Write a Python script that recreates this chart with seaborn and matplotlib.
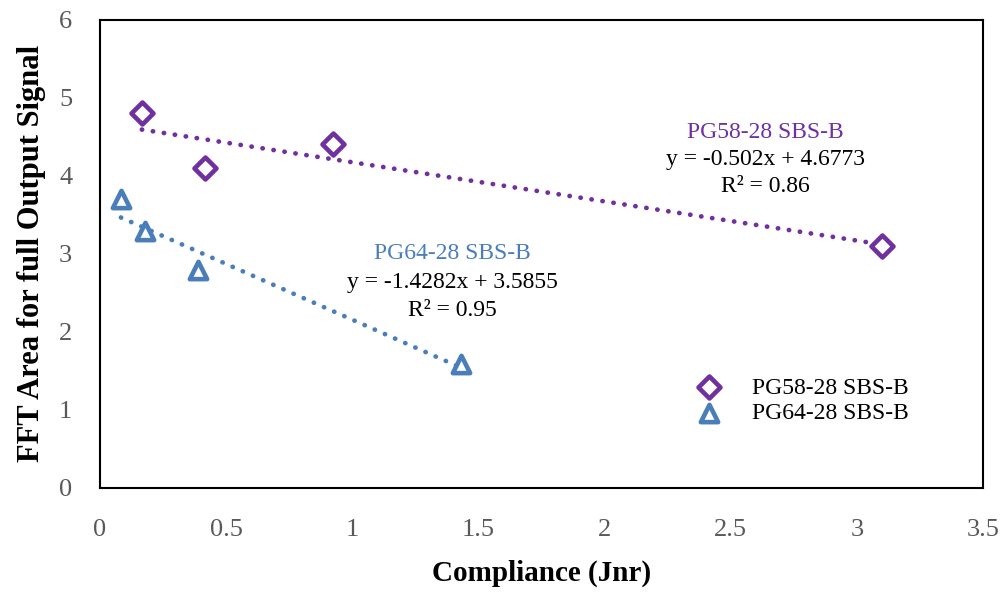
import numpy as np
import pandas as pd
import matplotlib
matplotlib.use("Agg")
import matplotlib.pyplot as plt
import seaborn as sns

# Measured compliance (Jnr) and FFT area for each binder
jnr_pg58 = [0.166, 0.416, 0.923, 3.10]
fft_pg58 = [4.81, 4.10, 4.41, 3.10]
jnr_pg64 = [0.083, 0.178, 0.388, 1.43]
fft_pg64 = [3.71, 3.29, 2.79, 1.59]

series_names = ["PG58-28 SBS-B", "PG64-28 SBS-B"]
fit_slopes = [-0.502, -1.4282]
fit_intercepts = [4.6773, 3.5855]
fit_r2 = ["0.86", "0.95"]

x_ticks = [0, 0.5, 1, 1.5, 2, 2.5, 3, 3.5]
y_ticks = [0, 1, 2, 3, 4, 5, 6]

purple = "#7030A0"
blue = "#4A7EBB"
serif = ["Liberation Serif", "DejaVu Serif"]

sns.set_theme(style="white")
plt.rcParams["font.family"] = serif

df = pd.DataFrame({
    "jnr": jnr_pg58 + jnr_pg64,
    "fft": fft_pg58 + fft_pg64,
    "binder": [series_names[0]] * len(jnr_pg58) + [series_names[1]] * len(jnr_pg64),
})

fig = plt.figure(figsize=(10.04, 5.94), dpi=100)
ax = fig.add_axes([0.0996, 0.1785, 0.8795, 0.788])

colors = [purple, blue]
markers = ["D", "^"]
sizes = [125, 155]

# Linear trend lines spanning each series' x range
for name, col, m, b in zip(series_names, colors, fit_slopes, fit_intercepts):
    sub = df[df["binder"] == name]
    xs = np.array([sub["jnr"].min(), sub["jnr"].max()])
    trend = pd.DataFrame({"jnr": xs, "fft": m * xs + b})
    sns.lineplot(data=trend, x="jnr", y="fft", ax=ax, color=col, legend=False,
                 zorder=2)
    line = ax.lines[-1]
    line.set_linewidth(3.4)
    line.set_linestyle((0, (0.05, 2.3)))
    line.set_dash_capstyle("round")

# Hollow markers for the measurements
for name, col, mk, sz in zip(series_names, colors, markers, sizes):
    sub = df[df["binder"] == name]
    sns.scatterplot(data=sub, x="jnr", y="fft", ax=ax, marker=mk, s=sz,
                    color="white", edgecolor=col, linewidth=3.3,
                    label=name, zorder=3)

ax.set_xlim(0, 3.5)
ax.set_ylim(0, 6)
ax.set_xticks(x_ticks)
ax.set_xticklabels([f"{t:g}" for t in x_ticks])
ax.set_yticks(y_ticks)
ax.set_yticklabels([f"{t:g}" for t in y_ticks])
ax.tick_params(axis="both", length=0, labelsize=19, labelcolor="#595959")
ax.tick_params(axis="x", pad=22)
ax.tick_params(axis="y", pad=20)
for sp in ax.spines.values():
    sp.set_visible(True)
    sp.set_color("black")
    sp.set_linewidth(1.5)

ax.set_xlabel("Compliance (Jnr)", fontsize=21, fontweight="bold", color="black",
              labelpad=14)
ax.set_ylabel("FFT Area for full Output Signal", fontsize=22, fontweight="bold",
              color="black", labelpad=9)

# Trend line equations
label_pos = [(2.636, 4.56, 4.21, 3.86), (1.395, 3.00, 2.63, 2.28)]
for name, col, m, b, r2, (tx, ty, ey, ry) in zip(series_names, colors, fit_slopes,
                                                 fit_intercepts, fit_r2, label_pos):
    ax.text(tx, ty, name, color=col, fontsize=17, ha="center", va="center")
    ax.text(tx, ey, f"y = {m:g}x + {b:g}", color="black", fontsize=17,
            ha="center", va="center")
    ax.text(tx, ry, f"R\u00b2 = {r2}", color="black", fontsize=17,
            ha="center", va="center")

leg = ax.legend(loc="upper left", bbox_to_anchor=(0.65, 0.262), frameon=False,
                fontsize=17, handletextpad=0.8, labelspacing=0.18, borderpad=0)
for t in leg.get_texts():
    t.set_color("black")

fig.savefig("out.png", dpi=100)
